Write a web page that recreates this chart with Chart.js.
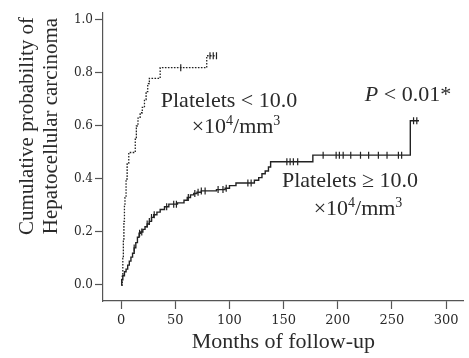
<!DOCTYPE html>
<html>
<head>
<meta charset="utf-8">
<script src="https://cdn.jsdelivr.net/npm/chart.js@4.4.1/dist/chart.umd.min.js"></script>
<style>
  body { margin: 0; background: #fff; }
  canvas { display: block; }
</style>
</head>
<body>
<canvas id="kmChart" width="469" height="358"></canvas>
<script>
// cumulative probability of HCC (months, probability)
const lowMonths = [0, 1, 1.5, 2, 2.5, 3, 3.5, 4.5, 5.5, 7, 13, 14, 15.5, 17.5, 19.5, 21.5, 23, 24.5, 26, 36, 79, 88];
const lowProb   = [0, 0.04, 0.1, 0.17, 0.24, 0.3, 0.33, 0.4, 0.46, 0.5, 0.55, 0.6, 0.63, 0.65, 0.67, 0.7, 0.73, 0.76, 0.78, 0.82, 0.865, 0.865];
const lowCensor = [55, 82, 85, 88];

const highMonths = [0, 0.5, 1.5, 3, 4.5, 6, 7.5, 9, 10.5, 12, 13.5, 15, 16.5, 18, 20, 22, 24, 26, 28, 30, 33, 36, 40, 44, 52, 58, 61, 64, 67, 70, 74, 88, 96, 100, 106, 123, 127, 130, 133, 136, 138, 177, 267, 275];
const highProb   = [0, 0.02, 0.035, 0.05, 0.06, 0.075, 0.09, 0.105, 0.12, 0.14, 0.16, 0.18, 0.195, 0.2, 0.21, 0.22, 0.23, 0.24, 0.255, 0.265, 0.275, 0.285, 0.295, 0.305, 0.31, 0.32, 0.33, 0.34, 0.345, 0.35, 0.355, 0.36, 0.365, 0.375, 0.385, 0.395, 0.405, 0.42, 0.43, 0.445, 0.465, 0.49, 0.62, 0.62];
const highCensor = [12, 17, 19, 24, 26, 28, 30.5, 42, 48.5, 51, 62, 68, 71, 74, 77.5, 89.5, 94, 97, 117, 120, 153, 156, 159, 163, 186.5, 198.5, 201.5, 205, 212, 221, 228.5, 237.5, 245.5, 256, 259, 270, 273];

const xTicks = [0, 50, 100, 150, 200, 250, 300];
const yTicks = [0, 0.2, 0.4, 0.6, 0.8, 1.0];

const ink = "#2a2a2a";
const axisColor = "#555";
const serif = "'Liberation Serif', 'Times New Roman', serif";

function steps(months, probs) {
  return months.map((m, i) => ({x: m, y: probs[i]}));
}

// censored marks sit on the curve value at that time
function marks(months, probs, times) {
  return times.map(t => {
    let v = probs[0];
    for (let i = 0; i < months.length; i++) {
      if (months[i] <= t) v = probs[i];
    }
    return {x: t, y: v};
  });
}

function drawRich(ctx, parts, cx, y, size) {
  const fontOf = p => (p.italic ? "italic " : "") + (p.sup ? Math.round(size * 0.62) : size) + "px " + serif;
  let w = 0;
  parts.forEach(p => { ctx.font = fontOf(p); w += ctx.measureText(p.t).width; });
  let x = cx - w / 2;
  ctx.textAlign = "left";
  ctx.textBaseline = "alphabetic";
  parts.forEach(p => {
    ctx.font = fontOf(p);
    ctx.fillText(p.t, x, p.sup ? y - size * 0.38 : y);
    x += ctx.measureText(p.t).width;
  });
}

const textPlugin = {
  id: "kmText",
  afterDraw(chart) {
    const ctx = chart.ctx;
    ctx.save();
    ctx.fillStyle = ink;

    // y axis title, two lines
    ctx.font = "21px " + serif;
    ctx.textAlign = "center";
    ctx.textBaseline = "alphabetic";
    [["Cumulative probability of", 33], ["Hepatocellular carcinoma", 57]].forEach(([s, bx]) => {
      ctx.save();
      ctx.translate(bx, 126);
      ctx.rotate(-Math.PI / 2);
      ctx.fillText(s, 0, 0);
      ctx.restore();
    });

    const unit = [{t: "×10"}, {t: "4", sup: true}, {t: "/mm"}, {t: "3", sup: true}];
    drawRich(ctx, [{t: "Platelets < 10.0"}], 229, 107, 22);
    drawRich(ctx, unit, 236, 133, 22);
    drawRich(ctx, [{t: "P", italic: true}, {t: " < 0.01*"}], 408, 101, 22);
    drawRich(ctx, [{t: "Platelets ≥ 10.0"}], 350, 187, 22);
    drawRich(ctx, unit, 358, 215, 22);
    ctx.restore();
  }
};

new Chart("kmChart", {
  type: "scatter",
  data: {
    datasets: [
      {
        data: steps(lowMonths, lowProb),
        showLine: true,
        stepped: true,
        borderColor: "#222",
        borderWidth: 1.3,
        borderDash: [1.6, 1.4],
        pointRadius: 0
      },
      {
        data: steps(highMonths, highProb),
        showLine: true,
        stepped: true,
        borderColor: "#222",
        borderWidth: 1.4,
        pointRadius: 0
      },
      {
        data: marks(lowMonths, lowProb, lowCensor),
        showLine: false,
        pointStyle: "line",
        rotation: 90,
        pointRadius: 3.5,
        pointBorderWidth: 1.2,
        borderColor: "#222"
      },
      {
        data: marks(highMonths, highProb, highCensor),
        showLine: false,
        pointStyle: "line",
        rotation: 90,
        pointRadius: 3.5,
        pointBorderWidth: 1.2,
        borderColor: "#222"
      }
    ]
  },
  options: {
    responsive: false,
    animation: false,
    devicePixelRatio: 1,
    layout: {padding: {top: 13, right: 0, left: 0, bottom: 0}},
    plugins: {
      legend: {display: false},
      tooltip: {enabled: false}
    },
    scales: {
      x: {
        type: "linear",
        min: -16.8,
        max: 316.4,
        afterFit: s => { s.height = 57; },
        afterBuildTicks: s => { s.ticks = xTicks.map(v => ({value: v})); },
        border: {display: true, color: axisColor, width: 1.2},
        grid: {drawOnChartArea: false, drawTicks: true, tickLength: 8, tickColor: axisColor, tickWidth: 1.2},
        ticks: {
          color: ink,
          padding: 4,
          maxRotation: 0,
          font: {family: "'DejaVu Serif', serif", size: 13}
        },
        title: {
          display: true,
          text: "Months of follow-up",
          color: ink,
          font: {family: serif, size: 22},
          padding: {top: 0, bottom: 3}
        }
      },
      y: {
        min: -0.0604,
        max: 1.0264,
        afterFit: s => { s.width = 103; },
        afterBuildTicks: s => { s.ticks = yTicks.map(v => ({value: v})); },
        border: {display: true, color: axisColor, width: 1.2},
        grid: {drawOnChartArea: false, drawTicks: true, tickLength: 8, tickColor: axisColor, tickWidth: 1.2},
        ticks: {
          color: ink,
          padding: 2,
          font: {family: "'DejaVu Serif', serif", size: 12},
          callback: v => v.toFixed(1)
        }
      }
    }
  },
  plugins: [textPlugin]
});
</script>
</body>
</html>
